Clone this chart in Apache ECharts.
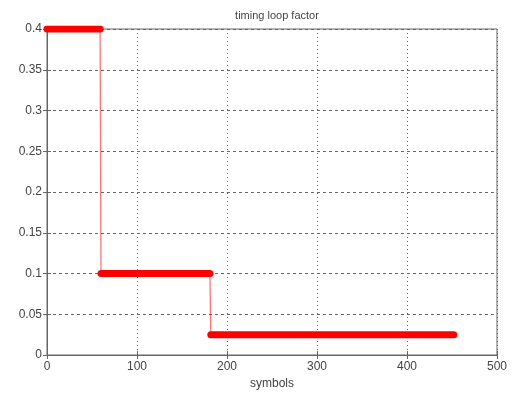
<!DOCTYPE html>
<html><head><meta charset="utf-8">
<script src="https://cdn.jsdelivr.net/npm/echarts@6/dist/echarts.min.js"></script>
<style>html,body{margin:0;padding:0;background:#fff}#c{width:512px;height:401px}</style>
</head><body><div id="c"></div>
<script>
// step levels of the timing loop factor
const stepStartX = [0, 60, 182];
const stepEndX = [59, 181, 452];
const stepValue = [0.4, 0.1, 0.025];
const xTicks = [0, 100, 200, 300, 400, 500];
const yTicks = [0, 0.05, 0.1, 0.15, 0.2, 0.25, 0.3, 0.35, 0.4];

const thin = [];
for (let i = 0; i < stepValue.length; i++) {
  thin.push([stepStartX[i], stepValue[i]]);
  thin.push([stepEndX[i], stepValue[i]]);
}
const series = [{
  type: 'line', data: thin, showSymbol: false, silent: true,
  lineStyle: { color: 'rgba(255,0,0,0.55)', width: 1.3 }, z: 2
}];
for (let i = 0; i < stepValue.length; i++) {
  series.push({
    type: 'line', showSymbol: false, silent: true,
    data: [[stepStartX[i], stepValue[i]], [stepEndX[i], stepValue[i]]],
    lineStyle: { color: '#ff0000', width: 7, cap: 'round' }, z: 3
  });
}
const lab = { color: '#444', fontFamily: 'Liberation Sans, Arial, sans-serif', fontSize: 12 };
const chart = echarts.init(document.getElementById('c'), null, { renderer: 'canvas' });
chart.setOption({
  animation: false,
  title: { text: 'timing loop factor', left: 272, top: 5, textAlign: 'center',
    textStyle: { fontSize: 11, fontWeight: 'normal', color: '#444', fontFamily: 'Liberation Sans, Arial, sans-serif' } },
  grid: { left: 47, right: 15, top: 29, bottom: 46, show: true, borderColor: '#666', borderWidth: 1, backgroundColor: '#fff' },
  xAxis: [{
    type: 'value', min: xTicks[0], max: xTicks[xTicks.length - 1], interval: xTicks[1] - xTicks[0],
    name: 'symbols', nameLocation: 'middle', nameGap: 22,
    nameTextStyle: lab,
    axisLine: { show: true, lineStyle: { color: '#666' } },
    axisTick: { show: true, inside: true, length: 4, lineStyle: { color: '#666' } },
    axisLabel: Object.assign({ margin: 6 }, lab),
    splitLine: { show: true, lineStyle: { color: '#666', type: [1, 3], width: 1 } }
  }, {
    type: 'value', position: 'top', min: xTicks[0], max: xTicks[xTicks.length - 1], interval: xTicks[1] - xTicks[0],
    axisLine: { show: true, lineStyle: { color: '#666' } },
    axisTick: { show: true, inside: true, length: 4, lineStyle: { color: '#666' } },
    axisLabel: { show: false }, splitLine: { show: false }
  }],
  yAxis: [{
    type: 'value', min: yTicks[0], max: yTicks[yTicks.length - 1], interval: 0.05,
    axisLine: { show: true, lineStyle: { color: '#666' } },
    axisTick: { show: true, inside: true, length: 4, lineStyle: { color: '#666' } },
    axisLabel: Object.assign({ margin: 5, formatter: v => String(+v.toFixed(2)) }, lab),
    splitLine: { show: true, lineStyle: { color: '#666', type: [3, 3], width: 1 } }
  }, {
    type: 'value', position: 'right', min: yTicks[0], max: yTicks[yTicks.length - 1], interval: 0.05,
    axisLine: { show: true, lineStyle: { color: '#666' } },
    axisTick: { show: true, inside: true, length: 4, lineStyle: { color: '#666' } },
    axisLabel: { show: false }, splitLine: { show: false }
  }],
  series: series
});
</script></body></html>
